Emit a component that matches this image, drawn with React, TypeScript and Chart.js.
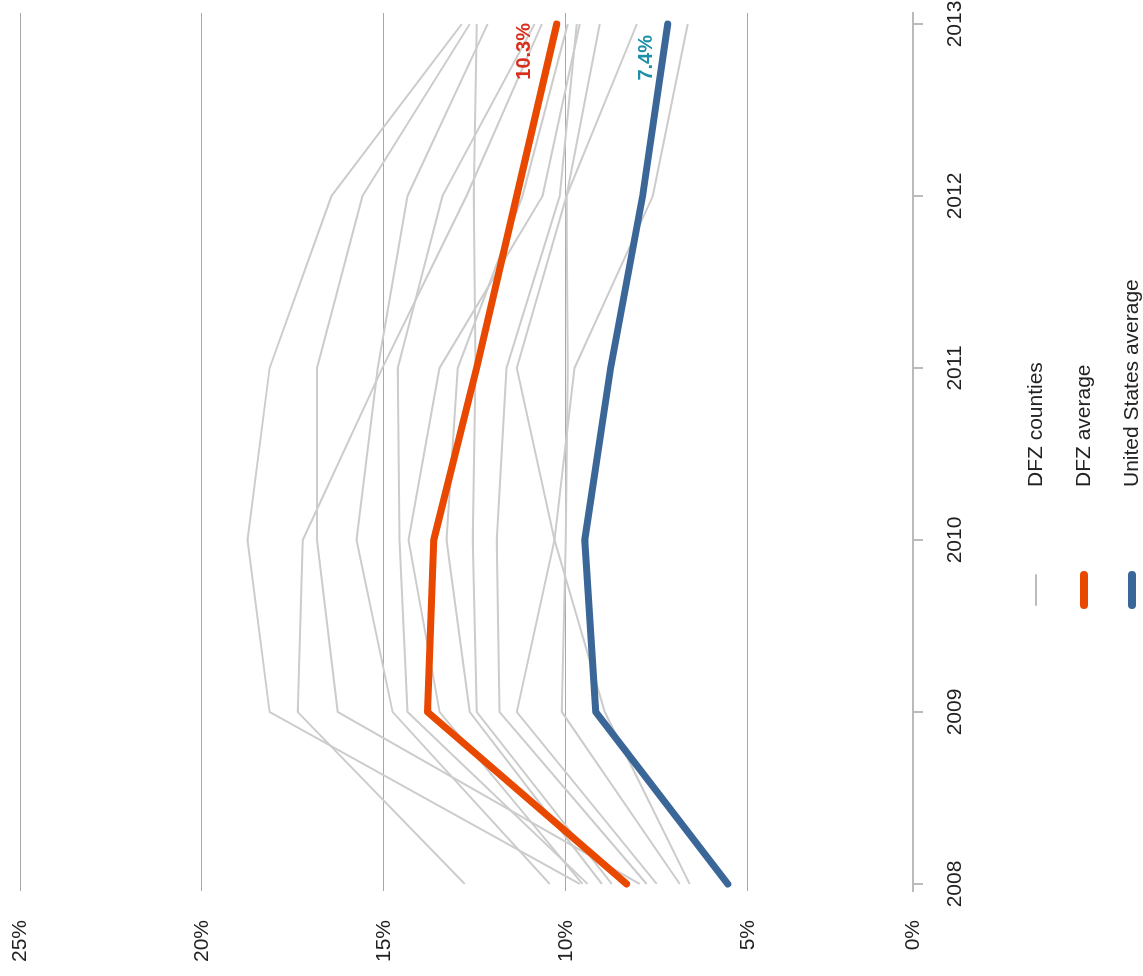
import React, { useEffect, useRef } from "react";
import { Chart, registerables } from "chart.js";

Chart.register(...registerables);

// ---------- data ----------
const years = [2008, 2009, 2010, 2011, 2012, 2013];
const pctTicks = [0, 5, 10, 15, 20, 25];
const pctTickLabels = ["0%", "5%", "10%", "15%", "20%", "25%"];

const usAverage = [5.55, 9.18, 9.48, 8.77, 7.89, 7.2];
const dfzAverage = [8.33, 13.8, 13.63, 12.45, 11.35, 10.25];

const countyA = [9.62, 18.14, 18.75, 18.14, 16.44, 12.86];
const countyB = [12.78, 17.37, 17.23, 15.04, 12.73, 10.66];
const countyC = [7.97, 16.27, 16.84, 16.84, 15.59, 12.64];
const countyD = [10.44, 14.76, 15.75, 15.17, 14.35, 12.15];
const countyE = [9.4, 14.35, 14.57, 14.62, 13.39, 10.86];
const countyF = [9.54, 13.47, 14.32, 13.47, 10.64, 9.62];
const countyG = [9.01, 12.64, 13.28, 12.97, 11.19, 9.95];
const countyH = [8.74, 12.45, 12.56, 12.48, 12.53, 12.45];
const countyI = [7.78, 11.82, 11.9, 11.63, 10.17, 9.7];
const countyJ = [7.5, 11.35, 10.31, 11.35, 9.98, 9.07];
const countyK = [6.87, 10.11, 10.0, 9.95, 9.98, 8.05];
const countyL = [6.6, 8.93, 10.31, 9.76, 7.61, 6.65];

const counties = [countyA, countyB, countyC, countyD, countyE, countyF, countyG, countyH, countyI, countyJ, countyK, countyL];

const legendLabels = ["DFZ counties", "DFZ average", "United States average"];
const dfzEndLabel = "10.3%";
const usEndLabel = "7.4%";

// ---------- styles ----------
const FONT = "Arial, 'Liberation Sans', Helvetica, sans-serif";
const W = 976; // canvas (unrotated) width
const H = 1143; // canvas (unrotated) height
const ORANGE = "#e84800";
const BLUE = "#3b6698";
const GREY = "#cccccc";

const toPoints = (vals: number[]) => vals.map((v, i) => ({ x: years[i], y: v }));

const decorations = {
  id: "decorations",
  afterDatasetsDraw(chart: any) {
    const ctx = chart.ctx;
    ctx.save();
    ctx.font = `bold 20px ${FONT}`;
    ctx.textAlign = "right";
    ctx.textBaseline = "alphabetic";
    const dm = chart.getDatasetMeta(1).data;
    const dp = dm[dm.length - 1];
    ctx.fillStyle = "#d8301c";
    ctx.fillText(dfzEndLabel, dp.x + 1, dp.y - 27);
    const um = chart.getDatasetMeta(0).data;
    const up = um[um.length - 1];
    ctx.fillStyle = "#1e8fa8";
    ctx.fillText(usEndLabel, up.x - 11, up.y - 16);
    ctx.restore();
  },
  afterDraw(chart: any) {
    const ctx = chart.ctx;
    const base = chart.chartArea.bottom;
    const items = [
      { text: legendLabels[0], color: "#bbbbbb", width: 2, dy: 123 },
      { text: legendLabels[1], color: ORANGE, width: 8, dy: 171 },
      { text: legendLabels[2], color: BLUE, width: 8, dy: 219 },
    ];
    ctx.save();
    ctx.font = `21px ${FONT}`;
    ctx.textAlign = "left";
    ctx.textBaseline = "middle";
    ctx.lineCap = "round";
    items.forEach((it) => {
      const y = base + it.dy;
      ctx.beginPath();
      ctx.strokeStyle = it.color;
      ctx.lineWidth = it.width;
      ctx.moveTo(371, y);
      ctx.lineTo(401, y);
      ctx.stroke();
      ctx.fillStyle = "#222";
      ctx.fillText(it.text, 489, y);
    });
    ctx.restore();
  },
};

export default function App() {
  const canvasRef = useRef<HTMLCanvasElement | null>(null);

  useEffect(() => {
    if (!canvasRef.current) return;
    const datasets: any[] = [
      {
        label: legendLabels[2],
        data: toPoints(usAverage),
        borderColor: BLUE,
        borderWidth: 7,
        borderCapStyle: "round",
        borderJoinStyle: "round",
        pointRadius: 0,
        tension: 0,
      },
      {
        label: legendLabels[1],
        data: toPoints(dfzAverage),
        borderColor: ORANGE,
        borderWidth: 7,
        borderCapStyle: "round",
        borderJoinStyle: "round",
        pointRadius: 0,
        tension: 0,
      },
      ...counties.map((c, i) => ({
        label: `${legendLabels[0]} ${i + 1}`,
        data: toPoints(c),
        borderColor: GREY,
        borderWidth: 2,
        pointRadius: 0,
        tension: 0,
      })),
    ];

    const chart = new Chart(canvasRef.current, {
      type: "line",
      data: { datasets },
      plugins: [decorations],
      options: {
        responsive: false,
        animation: false,
        devicePixelRatio: 1,
        layout: { padding: { top: 20, right: 13, left: 0, bottom: 0 } },
        plugins: {
          legend: { display: false },
          tooltip: { enabled: false },
        },
        scales: {
          x: {
            type: "linear",
            min: 2007.959,
            max: 2013.064,
            afterBuildTicks: (s: any) => {
              s.ticks = years.map((v) => ({ value: v }));
            },
            afterFit: (s: any) => {
              s.height = 230;
              s.paddingLeft = 0;
              s.paddingRight = 0;
            },
            ticks: {
              callback: (v: any) => String(v),
              font: { family: FONT, size: 21 },
              color: "#222",
              padding: 20,
              maxRotation: 0,
              autoSkip: false,
            },
            grid: {
              drawOnChartArea: false,
              drawTicks: true,
              tickLength: 10,
              color: "#bbbbbb",
              lineWidth: 2,
            },
            border: { display: true, color: "#bbbbbb", width: 2 },
          },
          y: {
            type: "linear",
            min: 0.46,
            max: 25,
            afterBuildTicks: (s: any) => {
              s.ticks = pctTicks.map((v) => ({ value: Math.max(v, s.min) }));
            },
            afterFit: (s: any) => {
              s.width = 85;
              s.paddingTop = 0;
              s.paddingBottom = 0;
            },
            ticks: {
              callback: (_v: any, i: number) => pctTickLabels[i],
              font: { family: FONT, size: 21 },
              color: "#222",
              padding: 29,
              autoSkip: false,
            },
            grid: {
              drawTicks: false,
              color: (c: any) => (c.tick && c.tick.value < 1 ? "rgba(0,0,0,0)" : "#a8a8a8"),
              lineWidth: 1,
            },
            border: { display: false },
          },
        },
      },
    } as any);

    return () => chart.destroy();
  }, []);

  return (
    <div style={{ position: "absolute", left: 0, top: 0, width: 1143, height: 976, overflow: "hidden", background: "#fff" }}>
      <div
        style={{
          position: "absolute",
          left: 0,
          top: 0,
          width: W,
          height: H,
          transformOrigin: "0 0",
          transform: "translateY(976px) rotate(-90deg)",
        }}
      >
        <canvas ref={canvasRef} width={W} height={H} style={{ display: "block", width: W, height: H }} />
      </div>
    </div>
  );
}
